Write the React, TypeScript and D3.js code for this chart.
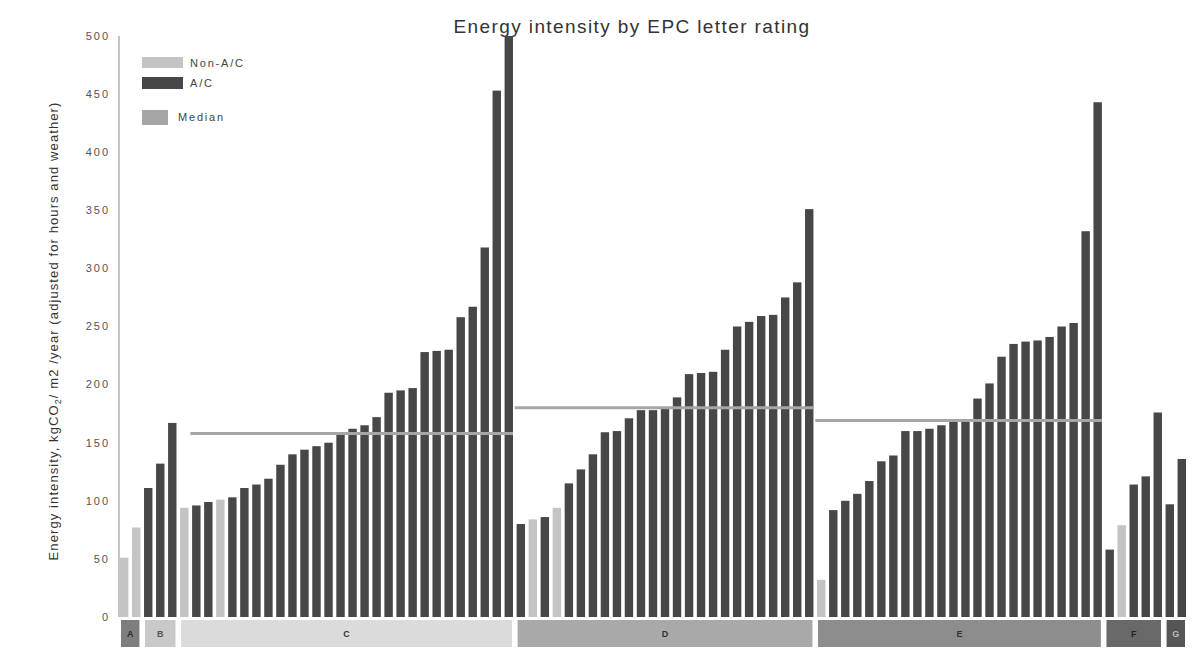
import React from "react";
import * as d3 from "d3";

const groups = ["A", "B", "C", "D", "E", "F", "G"];
// 0 = Non-A/C, 1 = A/C
const valuesA = [51, 77];
const typesA = [0, 0];
const valuesB = [111, 132, 167];
const typesB = [1, 1, 1];
const valuesC = [94, 96, 99, 101, 103, 111, 114, 119, 131, 140, 144, 147, 150, 157, 162, 165, 172, 193, 195, 197, 228, 229, 230, 258, 267, 318, 453, 500];
const typesC = [0, 1, 1, 0, 1, 1, 1, 1, 1, 1, 1, 1, 1, 1, 1, 1, 1, 1, 1, 1, 1, 1, 1, 1, 1, 1, 1, 1];
const valuesD = [80, 84, 86, 94, 115, 127, 140, 159, 160, 171, 178, 178, 179, 189, 209, 210, 211, 230, 250, 254, 259, 260, 275, 288, 351];
const typesD = [1, 0, 1, 0, 1, 1, 1, 1, 1, 1, 1, 1, 1, 1, 1, 1, 1, 1, 1, 1, 1, 1, 1, 1, 1];
const valuesE = [32, 92, 100, 106, 117, 134, 139, 160, 160, 162, 165, 168, 169, 188, 201, 224, 235, 237, 238, 241, 250, 253, 332, 443];
const typesE = [0, 1, 1, 1, 1, 1, 1, 1, 1, 1, 1, 1, 1, 1, 1, 1, 1, 1, 1, 1, 1, 1, 1, 1];
const valuesF = [58, 79, 114, 121, 176];
const typesF = [1, 0, 1, 1, 1];
const valuesG = [97, 136];
const typesG = [1, 1];

const groupValues = [valuesA, valuesB, valuesC, valuesD, valuesE, valuesF, valuesG];
const groupTypes = [typesA, typesB, typesC, typesD, typesE, typesF, typesG];

const medianGroups = ["C", "D", "E"];
const medianValues = [158, 180, 169];
const medianFirstBar = [1, 0, 0];

const yTicks = [0, 50, 100, 150, 200, 250, 300, 350, 400, 450, 500];

const groupFill: Record<string, string> = {
  A: "#7e7e7e",
  B: "#c9c9c9",
  C: "#dbdbdb",
  D: "#a9a9a9",
  E: "#8d8d8d",
  F: "#696969",
  G: "#565656",
};
const groupText: Record<string, string> = {
  A: "#2a2a2a",
  B: "#555",
  C: "#333",
  D: "#333",
  E: "#333",
  F: "#222",
  G: "#bbb",
};

const DARK = "#474747";
const LIGHT = "#c4c4c4";
const MEDIAN = "#a6a6a6";
const FONT = "'Liberation Sans', Arial, sans-serif";

export default function App() {
  const bars: { id: number; group: string; gi: number; value: number; type: number }[] = [];
  groups.forEach((g, gi) => {
    groupValues[gi].forEach((v, i) => {
      bars.push({ id: bars.length, group: g, gi: i, value: v, type: groupTypes[gi][i] });
    });
  });

  const x = d3
    .scaleBand<number>()
    .domain(bars.map((b) => b.id))
    .range([120, 1186])
    .paddingInner(0.3)
    .paddingOuter(0);
  const y = d3.scaleLinear().domain([0, 500]).range([617, 36]);
  const bw = x.bandwidth();
  const step = x.step();

  const groupSpan = (g: string) => {
    const ids = bars.filter((b) => b.group === g).map((b) => b.id);
    return { first: ids[0], last: ids[ids.length - 1] };
  };

  return (
    <svg
      width={1194}
      height={664}
      style={{ position: "absolute", left: 0, top: 0, background: "#fff" }}
      fontFamily={FONT}
    >
      <text x={632} y={33} textAnchor="middle" fontSize={19} letterSpacing={1.4} fill="#333">
        Energy intensity by EPC letter rating
      </text>

      {/* y axis */}
      <line x1={119} x2={119} y1={y(500)} y2={y(0)} stroke="#b0b0b0" strokeWidth={1.5} />
      {yTicks.map((t) => (
        <text key={t} x={110} y={y(t)} dy="0.35em" textAnchor="end" fontSize={11} letterSpacing={2} fill="#555">
          {t}
        </text>
      ))}
      <text
        transform={`translate(58, 331) rotate(-90)`}
        textAnchor="middle"
        fontSize={13}
        letterSpacing={1.1}
        fill="#333"
      >
        Energy intensity, kgCO
        <tspan fontSize={9} dy={3}>2</tspan>
        <tspan dy={-3}>/ m2 /year (adjusted for hours and weather)</tspan>
      </text>

      {/* bars */}
      {bars.map((b) => (
        <rect
          key={b.id}
          x={x(b.id)}
          y={y(b.value)}
          width={bw}
          height={y(0) - y(b.value)}
          fill={b.type === 1 ? DARK : LIGHT}
        />
      ))}

      {/* medians */}
      {medianGroups.map((g, i) => {
        const s = groupSpan(g);
        const x0 = (x(s.first + medianFirstBar[i]) as number) - (step - bw) / 2;
        const x1 = (x(s.last) as number) + bw;
        return (
          <line
            key={g}
            x1={x0}
            x2={x1}
            y1={y(medianValues[i])}
            y2={y(medianValues[i])}
            stroke={MEDIAN}
            strokeWidth={3}
          />
        );
      })}

      {/* group boxes */}
      {groups.map((g) => {
        const s = groupSpan(g);
        const x0 = (x(s.first) as number) + 1;
        const x1 = (x(s.last) as number) + bw - 1;
        return (
          <g key={g}>
            <rect x={x0} y={620} width={x1 - x0} height={27} fill={groupFill[g]} />
            <text
              x={(x0 + x1) / 2}
              y={634}
              dy="0.35em"
              textAnchor="middle"
              fontSize={9}
              fontWeight="bold"
              fill={groupText[g]}
            >
              {g}
            </text>
          </g>
        );
      })}

      {/* legend */}
      <rect x={142} y={57} width={41} height={11} fill={LIGHT} />
      <text x={190} y={63} dy="0.35em" fontSize={11} fill="#444" letterSpacing={1.8}>
        Non-A/C
      </text>
      <rect x={142} y={77} width={41} height={12} fill={DARK} />
      <text x={190} y={83} dy="0.35em" fontSize={11} fill="#444" letterSpacing={1.8}>
        A/C
      </text>
      <rect x={142} y={110} width={26} height={15} fill={MEDIAN} />
      <text x={178} y={117} dy="0.35em" fontSize={11} fill="#444" letterSpacing={1.8}>
        Median
      </text>
    </svg>
  );
}
